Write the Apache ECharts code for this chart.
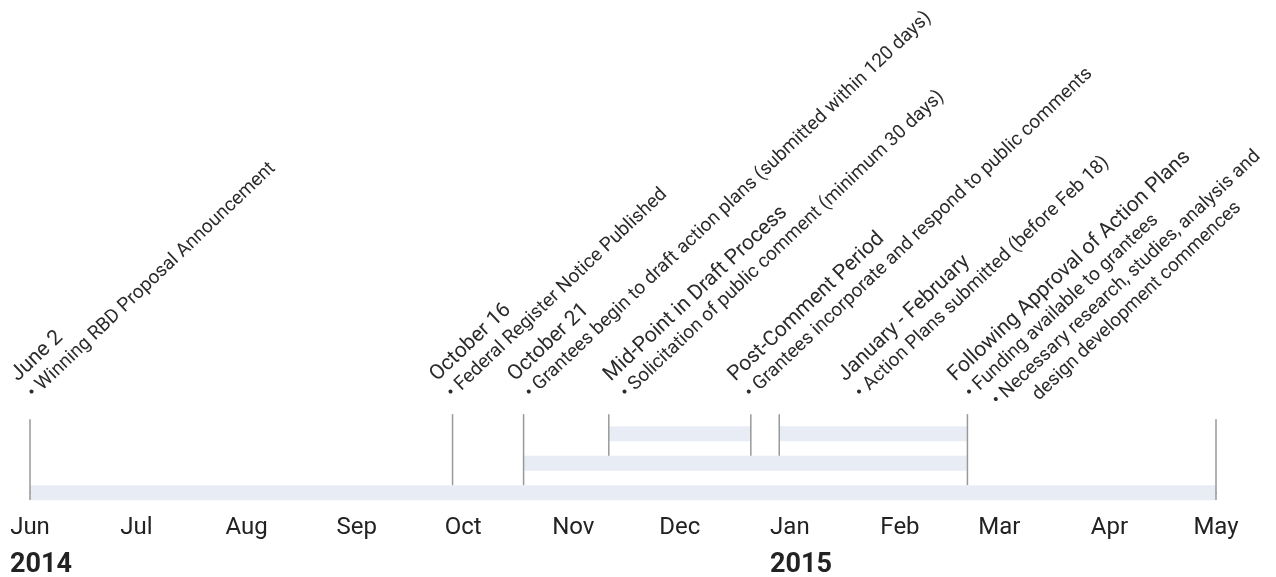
<!DOCTYPE html>
<html>
<head>
<meta charset="utf-8">
<script src="https://cdn.jsdelivr.net/npm/echarts@6/dist/echarts.min.js"></script>
<style>
html, body { margin: 0; padding: 0; background: #fff; }
#chart { width: 1276px; height: 577px; }
</style>
</head>
<body>
<div id="chart"></div>
<script>
// axis
const monthNames = ['Jan', 'Feb', 'Mar', 'Apr', 'May', 'Jun', 'Jul', 'Aug', 'Sep', 'Oct', 'Nov', 'Dec'];
const yearTicks = ['2014-06', '2015-01'];
const axisStart = '2014-06-01';
const axisEnd = '2015-05-01';

// shaded periods (row 0 = bottom)
const barStart = ['2014-06-01', '2014-10-18', '2014-11-11', '2014-12-29'];
const barEnd = ['2015-05-01', '2015-02-20', '2014-12-21', '2015-02-20'];
const barRow = [0, 1, 2, 2];

// vertical markers, each stops on top of the given row (-1 = axis)
const lineDates = ['2014-06-01', '2014-09-28', '2014-10-18', '2014-11-11', '2014-12-21', '2014-12-29', '2015-02-20', '2015-05-01'];
const lineStopRow = [-1, 0, 0, 1, 1, 1, 0, -1];

// annotations
const labelDates = ['2014-06-01', '2014-09-27', '2014-10-19', '2014-11-15', '2014-12-20', '2015-01-20', '2015-02-20'];
const labelTitles = ['June 2', 'October 16', 'October 21', 'Mid-Point in Draft Process', 'Post-Comment Period', 'January - February', 'Following Approval of Action Plans'];
const labelBullets = [
    ['• Winning RBD Proposal Announcement'],
    ['• Federal Register Notice Published'],
    ['• Grantees begin to draft action plans (submitted within 120 days)'],
    ['• Solicitation of public comment (minimum 30 days)'],
    ['• Grantees incorporate and respond to public comments'],
    ['• Action Plans submitted (before Feb 18)'],
    ['• Funding available to grantees', '   • Necessary research, studies, analysis and', '          design development commences']
];

const BAR_H = 15;
const TOP_ROW = 2;
const ROT = 43.5 * Math.PI / 180;

const myChart = echarts.init(document.getElementById('chart'));

function rowTop(api, row) {
    return api.coord([0, row])[1] - BAR_H / 2;
}

myChart.setOption({
    animation: false,
    grid: { left: 30, right: 60, top: 0, bottom: 77, outerBoundsMode: 'none', containLabel: false },
    xAxis: {
        type: 'time',
        min: axisStart,
        max: axisEnd,
        splitNumber: 11,
        minInterval: 28 * 86400000,
        maxInterval: 31 * 86400000,
        axisLine: { show: true, lineStyle: { color: '#777', width: 1.5 } },
        axisTick: { show: false },
        splitLine: { show: false },
        axisLabel: {
            margin: 10,
            formatter: function (value) {
                const d = new Date(value);
                const key = d.getFullYear() + '-' + String(d.getMonth() + 1).padStart(2, '0');
                let s = '{m|' + monthNames[d.getMonth()] + '}';
                if (yearTicks.indexOf(key) >= 0) s += '\n{y|' + d.getFullYear() + '}';
                return s;
            },
            rich: {
                m: { fontSize: 24, fontFamily: 'Roboto', color: '#222', lineHeight: 35 },
                y: { fontSize: 27, fontWeight: 'bold', fontFamily: 'Roboto', color: '#222', lineHeight: 40, align: 'left', padding: [0, 0, 0, 22] }
            }
        }
    },
    yAxis: { type: 'value', min: -0.25, max: 16.7, show: false },
    series: [
        {
            type: 'custom',
            clip: false,
            dimensions: [{ name: 'start', type: 'time' }, { name: 'end', type: 'time' }, { name: 'row', type: 'number' }],
            encode: { x: [0, 1], y: 2 },
            data: barStart.map((s, i) => [s, barEnd[i], barRow[i]]),
            renderItem: function (params, api) {
                const p1 = api.coord([api.value(0), api.value(2)]);
                const p2 = api.coord([api.value(1), api.value(2)]);
                return {
                    type: 'rect',
                    shape: { x: p1[0], y: p1[1] - BAR_H / 2, width: p2[0] - p1[0], height: BAR_H },
                    style: { fill: '#e8ecf4' }
                };
            }
        },
        {
            type: 'custom',
            clip: false,
            data: lineDates.map((d, i) => [d, lineStopRow[i]]),
            renderItem: function (params, api) {
                const x = api.coord([api.value(0), 0])[0];
                const stop = api.value(1);
                const top = rowTop(api, TOP_ROW) - 12;
                const y1 = stop < 0 ? top + 5 : top;
                const y2 = stop < 0 ? api.coord([0, -0.25])[1] : rowTop(api, stop);
                return {
                    type: 'line',
                    z2: 5,
                    shape: { x1: x, y1: y1, x2: x, y2: y2 },
                    style: { stroke: '#999', lineWidth: 1.5 }
                };
            }
        },
        {
            type: 'custom',
            clip: false,
            data: labelDates.map((d, i) => [d, i]),
            renderItem: function (params, api) {
                const i = api.value(1);
                const x = api.coord([api.value(0), 0])[0];
                const top = rowTop(api, TOP_ROW) - 12;
                const text = '{t|' + labelTitles[i] + '}' + labelBullets[i].map(b => '\n{b|' + b + '}').join('');
                return {
                    type: 'text',
                    x: x - 24,
                    y: top - 45,
                    rotation: ROT,
                    style: {
                        text: text,
                        align: 'left',
                        verticalAlign: 'top',
                        fill: '#2b2b2b',
                        fontFamily: 'Roboto',
                        fontSize: 19,
                        rich: {
                            t: { fontSize: 21, fontFamily: 'Roboto', fill: '#2b2b2b', lineHeight: 24 },
                            b: { fontSize: 19, fontFamily: 'Roboto', fill: '#2b2b2b', lineHeight: 24 }
                        }
                    }
                };
            }
        }
    ]
});
</script>
</body>
</html>
